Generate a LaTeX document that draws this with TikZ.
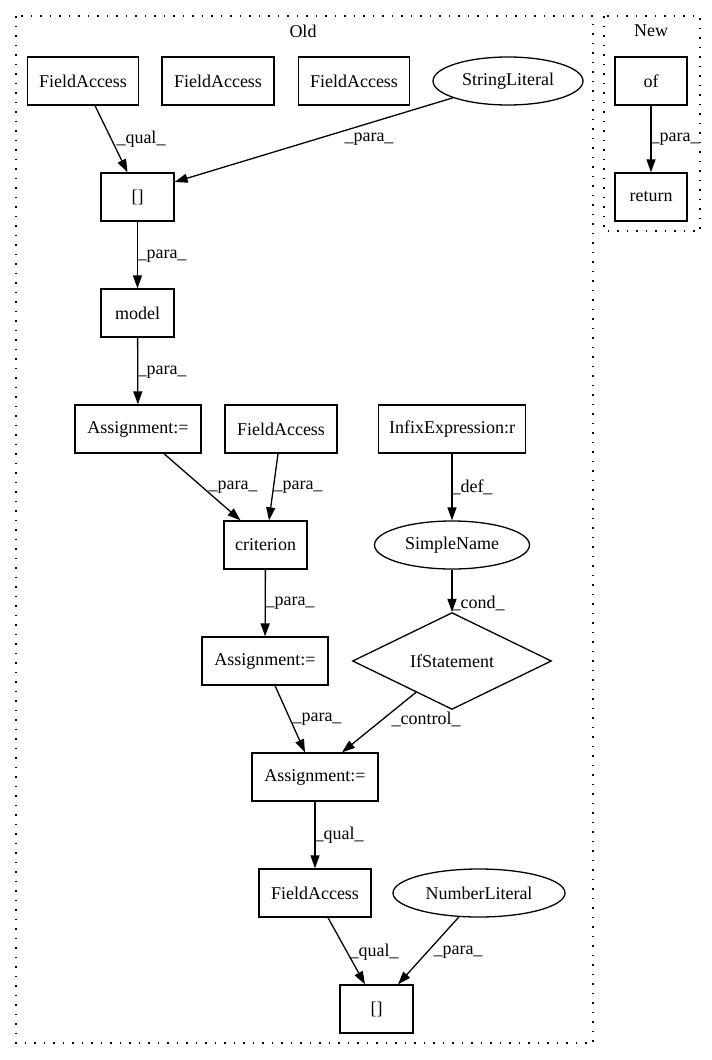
\documentclass[tikz,border=0pt]{standalone}
\usepackage{fontspec}
\setmainfont{Liberation Serif}
\usetikzlibrary{shapes.geometric,arrows.meta}
\begin{document}
\begin{tikzpicture}[x=1pt,y=-1pt,
  every node/.style={font=\fontsize{18}{20}\selectfont, inner sep=0pt},
  box/.style={draw, line width=1.3pt, rectangle, minimum height=48pt},
  ell/.style={draw, line width=1.3pt, ellipse, minimum height=48pt},
  dia/.style={draw, line width=1.3pt, diamond, minimum height=48pt},
  edge/.style={draw, line width=1.3pt, -{Triangle[length=13pt,width=9pt]}},
  lbl/.style={anchor=center},
  cluster/.style={draw, line width=1.3pt, dash pattern=on 1.5pt off 8pt}]
\useasboundingbox (0,0) rectangle (712,1060);
% clusters
\draw[cluster] (16,16) rectangle (593,1043);
\draw[cluster] (604,16) rectangle (700,231);
\node (oldlbl) at (303,31) {Old};
\node (newlbl) at (651,31) {New};
% nodes
\node[box, minimum width=111pt] (fa1) at (83,81) {FieldAccess};
\node[box, minimum width=112pt] (fa2) at (218,81) {FieldAccess};
\node[box, minimum width=111pt] (fa3) at (354,81) {FieldAccess};
\node[ell, minimum width=150pt] (str) at (508,81) {StringLiteral};
\node[box, minimum width=72pt] (of) at (651,81) {of};
\node[box, minimum width=72pt] (ret) at (651,197) {return};
\node[box, minimum width=73pt] (sq1) at (137.5,197) {[]};
\node[box, minimum width=73pt] (model) at (137.5,313) {model};
\node[box, minimum width=126pt] (as1) at (138,429) {Assignment:=};
\node[box, minimum width=112pt] (fa4) at (281,429) {FieldAccess};
\node[box, minimum width=147pt] (infix) at (452,429) {InfixExpression:r};
\node[box, minimum width=83pt] (crit) at (265.5,545) {criterion};
\node[ell, minimum width=155pt] (sn) at (452,545) {SimpleName};
\node[box, minimum width=126pt] (as2) at (265,661) {Assignment:=};
\node[dia, minimum width=199pt] (ifst) at (452,661) {IfStatement};
\node[box, minimum width=126pt] (as3) at (315,777) {Assignment:=};
\node[box, minimum width=112pt] (fa5) at (315,893) {FieldAccess};
\node[ell, minimum width=172pt] (nl) at (479,893) {NumberLiteral};
\node[box, minimum width=73pt] (sq2) at (376.5,1009) {[]};
% edges
\draw[edge] ([xshift=12pt]fa1.south) -- ([xshift=-10pt]sq1.north);
\draw[edge] (str.197.5) -- ([yshift=15pt]sq1.east);
\draw[edge] (sq1) -- (model);
\draw[edge] (of) -- (ret);
\draw[edge] (model) -- (as1);
\draw[edge] ([xshift=26pt]as1.south) -- ([xshift=-25pt]crit.north);
\draw[edge] ([xshift=-3pt]fa4.south) -- ([xshift=3.5pt]crit.north);
\draw[edge] (infix) -- (sn);
\draw[edge] (crit) -- (as2);
\draw[edge] (sn) -- (ifst);
\draw[edge] ([xshift=10pt]as2.south) -- ([xshift=-10pt]as3.north);
\draw[edge] (ifst.221) -- ([xshift=27pt]as3.north);
\draw[edge] (as3) -- (fa5);
\draw[edge] ([xshift=13pt]fa5.south) -- ([xshift=-11.5pt]sq2.north);
\draw[edge] (nl.230) -- ([xshift=21.5pt]sq2.north);
% edge labels
\node[lbl] (l1) at (141,139) {\_qual\_};
\node[lbl] (l2) at (369,139) {\_para\_};
\node[lbl] (l3) at (162,256) {\_para\_};
\node[lbl] (l4) at (675,139) {\_para\_};
\node[lbl] (l5) at (162,372) {\_para\_};
\node[lbl] (l6) at (233,487) {\_para\_};
\node[lbl] (l7) at (298,487) {\_para\_};
\node[lbl] (l8) at (472,487) {\_def\_};
\node[lbl] (l9) at (290,603) {\_para\_};
\node[lbl] (l10) at (478,603) {\_cond\_};
\node[lbl] (l11) at (317,719) {\_para\_};
\node[lbl] (l12) at (426,719) {\_control\_};
\node[lbl] (l13) at (339,835) {\_qual\_};
\node[lbl] (l14) at (374,952) {\_qual\_};
\node[lbl] (l15) at (458,952) {\_para\_};
\end{tikzpicture}
\end{document}
